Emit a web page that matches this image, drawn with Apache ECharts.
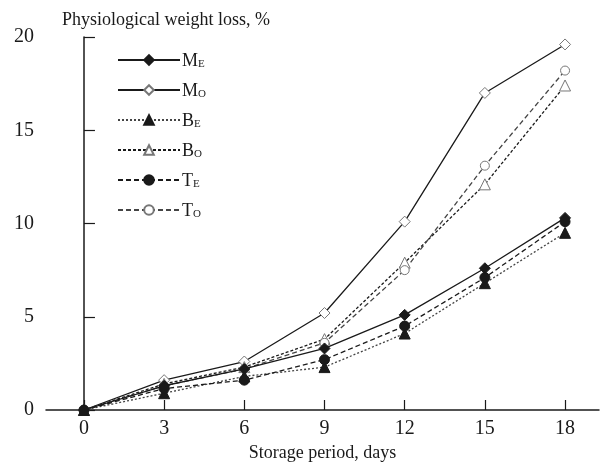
<!DOCTYPE html>
<html>
<head>
<meta charset="utf-8">
<script src="https://cdn.jsdelivr.net/npm/echarts@6/dist/echarts.min.js"></script>
<style>
  html, body { margin: 0; padding: 0; background: #fff; }
  #chart { width: 601px; height: 471px; }
</style>
</head>
<body>
<div id="chart"></div>
<script>
// Storage days on the x axis
const days = [0, 3, 6, 9, 12, 15, 18];
const xTicks = [0, 3, 6, 9, 12, 15, 18];
const yTicks = [0, 5, 10, 15, 20];

// Physiological weight loss (%) per treatment
const mE = [0, 1.3, 2.2, 3.3, 5.1, 7.6, 10.3];
const mO = [0, 1.6, 2.6, 5.2, 10.1, 17.0, 19.6];
const bE = [0, 0.9, 1.8, 2.3, 4.1, 6.8, 9.5];
const bO = [0, 1.4, 2.3, 3.8, 7.9, 12.1, 17.4];
const tE = [0, 1.15, 1.6, 2.7, 4.5, 7.1, 10.1];
const tO = [0, 1.3, 2.2, 3.6, 7.5, 13.1, 18.2];

// Legend labels: letter + subscript
const names = ['M_E', 'M_O', 'B_E', 'B_O', 'T_E', 'T_O'];

const FONT = '"Liberation Serif", "Times New Roman", serif';
const INK = '#1a1a1a';

function pairs(vals) {
  return days.map((d, i) => [d, vals[i]]);
}

function makeSeries(name, vals, symbol, filled, size, lineType, lineColor) {
  return {
    name: name,
    type: 'line',
    data: pairs(vals),
    symbol: symbol,
    symbolSize: size,
    showAllSymbol: true,
    z: filled ? 3 : 2,
    lineStyle: { color: lineColor, width: 1.3, type: lineType },
    itemStyle: filled
      ? { color: INK, borderColor: INK, borderWidth: 1 }
      : { color: '#fff', borderColor: '#777', borderWidth: 1 },
    emphasis: { disabled: true },
    animation: false
  };
}

const series = [
  makeSeries('M_E', mE, 'diamond', true, 11, 'solid', INK),
  makeSeries('M_O', mO, 'diamond', false, 11, 'solid', INK),
  makeSeries('B_E', bE, 'triangle', true, 11, [2, 2], '#444'),
  makeSeries('B_O', bO, 'triangle', false, 11, [3, 2], INK),
  makeSeries('T_E', tE, 'circle', true, 10, [5, 3], INK),
  makeSeries('T_O', tO, 'circle', false, 9, [5, 3], '#444')
];

const chart = echarts.init(document.getElementById('chart'), null, { renderer: 'canvas' });

chart.setOption({
  backgroundColor: '#fff',
  animation: false,
  textStyle: { fontFamily: FONT, color: INK },
  grid: { left: 46, right: 2, top: 37, bottom: 61, containLabel: false },
  legend: {
    orient: 'vertical',
    left: 112,
    top: 47,
    itemWidth: 62,
    itemHeight: 12,
    itemGap: 12,
    data: names,
    selectedMode: false,
    formatter: function (n) {
      const p = n.split('_');
      return '{a|' + p[0] + '}{s|' + p[1] + '}';
    },
    textStyle: {
      fontFamily: FONT,
      color: INK,
      padding: [0, 0, 0, -3],
      rich: {
        a: { fontFamily: FONT, fontSize: 18, color: INK, verticalAlign: 'bottom', lineHeight: 20 },
        s: { fontFamily: FONT, fontSize: 11, color: INK, verticalAlign: 'bottom', lineHeight: 16 }
      }
    }
  },
  xAxis: {
    type: 'value',
    min: -1.42,
    max: 19.27,
    name: 'Storage period, days',
    nameLocation: 'middle',
    nameGap: 27,
    nameTextStyle: { fontFamily: FONT, fontSize: 18, color: INK },
    splitLine: { show: false },
    axisLine: { show: true, onZero: false, lineStyle: { color: INK, width: 1.5 } },
    axisTick: {
      show: true,
      inside: true,
      length: 10,
      customValues: xTicks,
      lineStyle: { color: INK, width: 1.2 }
    },
    axisLabel: {
      customValues: xTicks,
      fontFamily: FONT,
      fontSize: 20,
      color: INK,
      margin: 9
    }
  },
  yAxis: {
    type: 'value',
    min: 0,
    max: 20,
    interval: 5,
    splitLine: { show: false },
    axisLine: { show: true, lineStyle: { color: INK, width: 1.5 } },
    axisTick: {
      show: true,
      inside: true,
      length: 11,
      customValues: yTicks,
      lineStyle: { color: INK, width: 1.2 }
    },
    axisLabel: {
      customValues: yTicks,
      fontFamily: FONT,
      fontSize: 20,
      color: INK,
      margin: 12
    }
  },
  graphic: [
    {
      type: 'text',
      left: 62,
      top: 11,
      style: {
        text: 'Physiological weight loss, %',
        fontFamily: FONT,
        fontSize: 18,
        fill: INK
      }
    }
  ],
  series: series
});
</script>
</body>
</html>
